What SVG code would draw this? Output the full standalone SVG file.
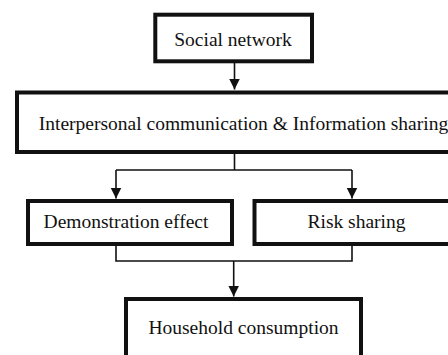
<svg xmlns="http://www.w3.org/2000/svg" width="448" height="355" viewBox="0 0 448 355">
  <style>
    .box { fill: #ffffff; stroke: #111111; stroke-width: 4; }
    .lbl { font-family: "Liberation Serif", "Times New Roman", serif; font-size: 19.5px; fill: #111111; text-anchor: middle; }
    .con { fill: none; stroke: #111111; stroke-width: 1.6; }
  </style>
  <defs>
    <marker id="arr" markerUnits="userSpaceOnUse" markerWidth="12" markerHeight="12" viewBox="0 0 12 12" refX="11" refY="6" orient="auto">
      <path d="M0,0.5 L11,6 L0,11.5 Z" fill="#111111"/>
    </marker>
  </defs>
  <rect width="448" height="355" fill="#ffffff"/>
  <g id="connectors">
    <path class="con" d="M234.5,63 V89.5" marker-end="url(#arr)"/>
    <path class="con" d="M234.5,154 V170 M116,170 H352"/>
    <path class="con" d="M116,170 V198.5" marker-end="url(#arr)"/>
    <path class="con" d="M352,170 V198.5" marker-end="url(#arr)"/>
    <path class="con" d="M116,246 V261 H352 V246"/>
    <path class="con" d="M233.7,261 V296.5" marker-end="url(#arr)"/>
  </g>
  <g id="social-network">
    <rect class="box" x="155.3" y="14.7" width="156.7" height="46.6"/>
    <text class="lbl" x="233" y="46">Social network</text>
  </g>
  <g id="interpersonal">
    <rect class="box" x="17" y="92.5" width="453" height="59.5"/>
    <text class="lbl" x="243.5" y="129.5">Interpersonal communication &amp; Information sharing</text>
  </g>
  <g id="demonstration-effect">
    <rect class="box" x="28" y="201" width="204" height="43"/>
    <text class="lbl" x="126" y="227.7">Demonstration effect</text>
  </g>
  <g id="risk-sharing">
    <rect class="box" x="254.5" y="201" width="205" height="43"/>
    <text class="lbl" x="356.5" y="227.7">Risk sharing</text>
  </g>
  <g id="household-consumption">
    <rect class="box" x="126" y="299" width="235" height="70"/>
    <text class="lbl" x="243.5" y="334">Household consumption</text>
  </g>
</svg>
